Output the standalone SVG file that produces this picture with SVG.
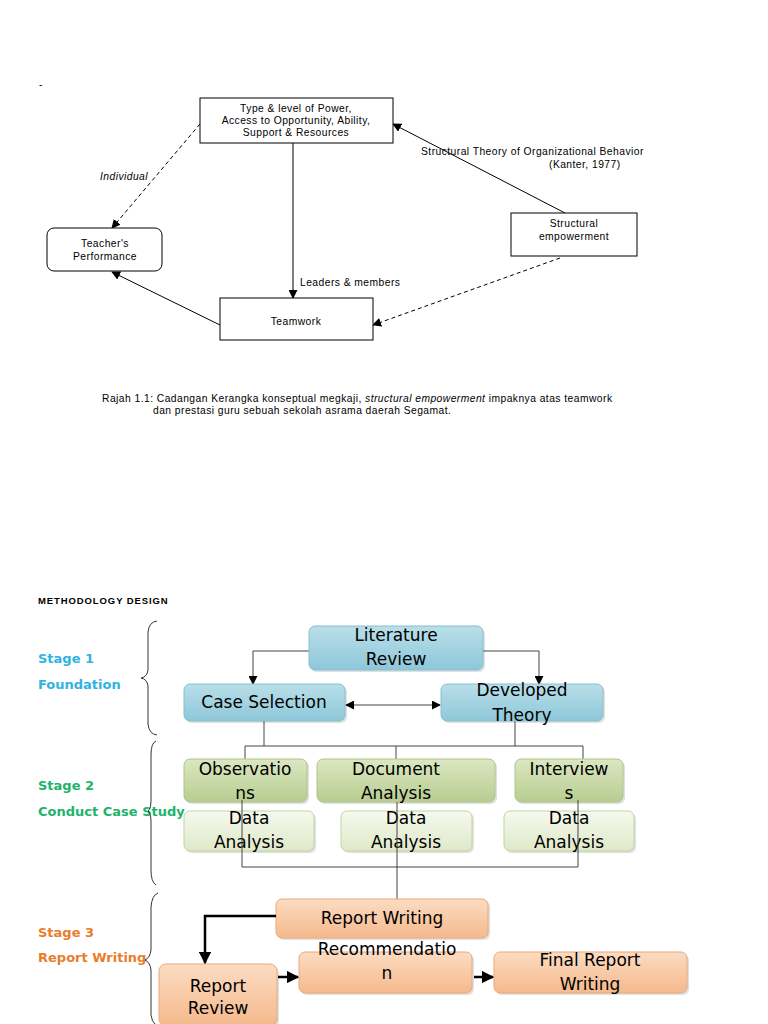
<svg xmlns="http://www.w3.org/2000/svg" width="768" height="1024" viewBox="0 0 768 1024">
<style>
.t{font-family:"Liberation Sans",Arial,sans-serif;font-size:10.3px;letter-spacing:0.45px;fill:#000}
.box{fill:#fff;stroke:#000;stroke-width:1}
.ln{stroke:#000;stroke-width:1;fill:none}
.dash{stroke:#000;stroke-width:1;fill:none;stroke-dasharray:4,3}
.m{font-family:"DejaVu Sans",Verdana,sans-serif;font-size:17px;fill:#000;text-anchor:middle}
.st{font-family:"DejaVu Sans",Verdana,sans-serif;font-size:13px;font-weight:bold}
.gl{stroke:#444;stroke-width:1;fill:none}
.bl{stroke:#000;stroke-width:2.5;fill:none}
.brace{stroke:#333;stroke-width:1;fill:none}
.sh{fill:#000;opacity:0.12}
</style>
<defs>
<marker id="ah" viewBox="0 0 10 10" refX="9" refY="5" markerWidth="9" markerHeight="9" markerUnits="userSpaceOnUse" orient="auto"><path d="M0,0 L10,5 L0,10 z" fill="#000"/></marker>
<marker id="ahs" viewBox="0 0 10 10" refX="9" refY="5" markerWidth="9" markerHeight="9" markerUnits="userSpaceOnUse" orient="auto-start-reverse"><path d="M0,0 L10,5 L0,10 z" fill="#000"/></marker>
<marker id="ahb" viewBox="0 0 10 10" refX="9" refY="5" markerWidth="5" markerHeight="5" orient="auto"><path d="M0,0 L10,5 L0,10 z" fill="#000"/></marker>
<linearGradient id="gBlue" x1="0" y1="0" x2="0" y2="1"><stop offset="0" stop-color="#b9dfe9"/><stop offset="1" stop-color="#8ec7d9"/></linearGradient>
<linearGradient id="gGreen" x1="0" y1="0" x2="0" y2="1"><stop offset="0" stop-color="#dbe7c2"/><stop offset="1" stop-color="#b8cd90"/></linearGradient>
<linearGradient id="gLG" x1="0" y1="0" x2="0" y2="1"><stop offset="0" stop-color="#f6f9ee"/><stop offset="1" stop-color="#dfe9c8"/></linearGradient>
<linearGradient id="gOr" x1="0" y1="0" x2="0" y2="1"><stop offset="0" stop-color="#fcdcc2"/><stop offset="1" stop-color="#f5b98c"/></linearGradient>
</defs>

<text x="39" y="88" class="t" font-size="6">-</text>

<g id="connectors-top">
<line x1="293" y1="143" x2="293" y2="298" class="ln" marker-end="url(#ah)"/>
<line x1="200" y1="124" x2="112" y2="228" class="dash" marker-end="url(#ah)"/>
<line x1="565" y1="213" x2="393" y2="124" class="ln" marker-end="url(#ah)"/>
<line x1="560" y1="258" x2="373" y2="325" class="dash" marker-end="url(#ah)"/>
<line x1="220" y1="325" x2="112" y2="272" class="ln" marker-end="url(#ah)"/>
<text x="300" y="286" class="t">Leaders &amp; members</text>
<text x="100" y="180" class="t" font-style="italic">Individual</text>
<text x="421" y="155" class="t">Structural Theory of Organizational Behavior</text>
<text x="549" y="168" class="t">(Kanter, 1977)</text>
</g>

<g id="power">
<rect x="200" y="98" width="193" height="45" class="box"/>
<text x="296" y="112" class="t" text-anchor="middle">Type &amp; level of Power,</text>
<text x="296" y="124" class="t" text-anchor="middle">Access to Opportunity, Ability,</text>
<text x="296" y="136" class="t" text-anchor="middle">Support &amp; Resources</text>
</g>
<g id="teacher">
<rect x="47" y="228" width="115" height="43" rx="7" class="box"/>
<text x="105" y="247" class="t" text-anchor="middle">Teacher's</text>
<text x="105" y="260" class="t" text-anchor="middle">Performance</text>
</g>
<g id="structural">
<rect x="511" y="213" width="126" height="43" class="box"/>
<text x="574" y="227" class="t" text-anchor="middle">Structural</text>
<text x="574" y="240" class="t" text-anchor="middle">empowerment</text>
</g>
<g id="teamwork">
<rect x="220" y="298" width="153" height="42" class="box"/>
<text x="296" y="325" class="t" text-anchor="middle">Teamwork</text>
</g>

<g id="caption">
<text x="102" y="402" class="t">Rajah 1.1: Cadangan Kerangka konseptual megkaji, <tspan font-style="italic">structural empowerment</tspan> impaknya atas  teamwork</text>
<text x="153" y="414" class="t">dan prestasi guru sebuah sekolah asrama daerah Segamat.</text>
</g>

<text x="38" y="604" font-family="'Liberation Sans',Arial,sans-serif" font-size="9.5" font-weight="bold" letter-spacing="0.9">METHODOLOGY DESIGN</text>

<g id="stages">
<text x="38" y="663" class="st" fill="#2fb3e3">Stage 1</text>
<text x="38" y="689" class="st" fill="#2fb3e3">Foundation</text>
<path d="M157,621 Q149,622 148,632 L148,670 Q147,677 141,678 Q147,679 148,686 L148,724 Q149,734 157,735" class="brace"/>
<text x="38" y="790" class="st" fill="#22b36a">Stage 2</text>
<text x="38" y="816" class="st" fill="#22b36a">Conduct Case Study</text>
<path d="M156,741 Q151,743 151,755 L151,800 Q151,809 148,811 Q151,813 151,822 L151,870 Q151,882 156,885" class="brace"/>
<text x="38" y="937" class="st" fill="#ea7d2c">Stage 3</text>
<text x="38" y="962" class="st" fill="#ea7d2c">Report Writing</text>
<path d="M158,893 Q152,895 151,907 L151,950 Q150,958 145,960 Q150,962 151,970 L151,1015 Q152,1022 155,1024" class="brace"/>
</g>

<g id="connectors-bottom">
<polyline points="309,651 253,651 253,684" class="gl" marker-end="url(#ah)"/>
<polyline points="483,651 539,651 539,684" class="gl" marker-end="url(#ah)"/>
<line x1="346" y1="705" x2="440" y2="705" class="gl" marker-start="url(#ahs)" marker-end="url(#ah)"/>
<line x1="264" y1="721" x2="264" y2="746" class="gl"/>
<line x1="515" y1="721" x2="515" y2="746" class="gl"/>
<polyline points="245,759 245,746 583,746 583,759" class="gl"/>
<line x1="396" y1="746" x2="396" y2="759" class="gl"/>
</g>

<g id="literature">
<rect x="311" y="628" width="174" height="44" rx="6" class="sh"/>
<rect x="309" y="626" width="174" height="44" rx="6" fill="url(#gBlue)" stroke="#86bfd0"/>
<text x="396" y="641" class="m">Literature</text>
<text x="396" y="665" class="m">Review</text>
</g>
<g id="case-selection">
<rect x="186" y="686" width="161" height="37" rx="6" class="sh"/>
<rect x="184" y="684" width="161" height="37" rx="6" fill="url(#gBlue)" stroke="#86bfd0"/>
<text x="264" y="708" class="m">Case Selection</text>
</g>
<g id="developed-theory">
<rect x="443" y="686" width="162" height="37" rx="6" class="sh"/>
<rect x="441" y="684" width="162" height="37" rx="6" fill="url(#gBlue)" stroke="#86bfd0"/>
<text x="522" y="696" class="m">Developed</text>
<text x="522" y="721" class="m">Theory</text>
</g>

<g id="observations">
<rect x="186" y="761" width="123" height="43" rx="6" class="sh"/>
<rect x="184" y="759" width="123" height="43" rx="6" fill="url(#gGreen)" stroke="#b0c48c"/>
<text x="245" y="775" class="m">Observatio</text>
<text x="245" y="799" class="m">ns</text>
</g>
<g id="document-analysis">
<rect x="319" y="761" width="178" height="43" rx="6" class="sh"/>
<rect x="317" y="759" width="178" height="43" rx="6" fill="url(#gGreen)" stroke="#b0c48c"/>
<text x="396" y="775" class="m">Document</text>
<text x="396" y="799" class="m">Analysis</text>
</g>
<g id="interviews">
<rect x="517" y="761" width="108" height="43" rx="6" class="sh"/>
<rect x="515" y="759" width="108" height="43" rx="6" fill="url(#gGreen)" stroke="#b0c48c"/>
<text x="569" y="775" class="m">Interview</text>
<text x="569" y="799" class="m">s</text>
</g>

<g id="data-analysis-1">
<rect x="186" y="813" width="130" height="40" rx="6" class="sh"/>
<rect x="184" y="811" width="130" height="40" rx="6" fill="url(#gLG)" stroke="#c3d3a3"/>
<text x="249" y="824" class="m">Data</text>
<text x="249" y="848" class="m">Analysis</text>
</g>
<g id="data-analysis-2">
<rect x="343" y="813" width="131" height="40" rx="6" class="sh"/>
<rect x="341" y="811" width="131" height="40" rx="6" fill="url(#gLG)" stroke="#c3d3a3"/>
<text x="406" y="824" class="m">Data</text>
<text x="406" y="848" class="m">Analysis</text>
</g>
<g id="data-analysis-3">
<rect x="506" y="813" width="130" height="40" rx="6" class="sh"/>
<rect x="504" y="811" width="130" height="40" rx="6" fill="url(#gLG)" stroke="#c3d3a3"/>
<text x="569" y="824" class="m">Data</text>
<text x="569" y="848" class="m">Analysis</text>
</g>

<g id="connectors-mid">
<polyline points="242,800 242,867 578,867 578,800" class="gl"/>
<line x1="397" y1="802" x2="397" y2="899" class="gl" stroke="#000"/>
</g>

<g id="report-writing">
<rect x="278" y="901" width="212" height="39" rx="6" class="sh"/>
<rect x="276" y="899" width="212" height="39" rx="6" fill="url(#gOr)" stroke="#e8a87c"/>
<text x="382" y="924" class="m">Report Writing</text>
</g>
<g id="report-review">
<rect x="161" y="966" width="118" height="62" rx="7" class="sh"/>
<rect x="159" y="964" width="118" height="62" rx="7" fill="url(#gOr)" stroke="#e8a87c"/>
<text x="218" y="992" class="m">Report</text>
<text x="218" y="1014" class="m">Review</text>
</g>
<g id="recommendation">
<rect x="301" y="954" width="173" height="41" rx="6" class="sh"/>
<rect x="299" y="952" width="173" height="41" rx="6" fill="url(#gOr)" stroke="#e8a87c"/>
<text x="387" y="955" class="m">Recommendatio</text>
<text x="387" y="979" class="m">n</text>
</g>
<g id="final-report">
<rect x="496" y="954" width="193" height="41" rx="6" class="sh"/>
<rect x="494" y="952" width="193" height="41" rx="6" fill="url(#gOr)" stroke="#e8a87c"/>
<text x="590" y="966" class="m">Final Report</text>
<text x="590" y="990" class="m">Writing</text>
</g>

<g id="connectors-stage3">
<polyline points="276,916 205,916 205,963" class="bl" marker-end="url(#ahb)"/>
<line x1="278" y1="977" x2="298" y2="977" class="bl" marker-end="url(#ahb)"/>
<line x1="474" y1="977" x2="493" y2="977" class="bl" marker-end="url(#ahb)"/>
</g>
</svg>
